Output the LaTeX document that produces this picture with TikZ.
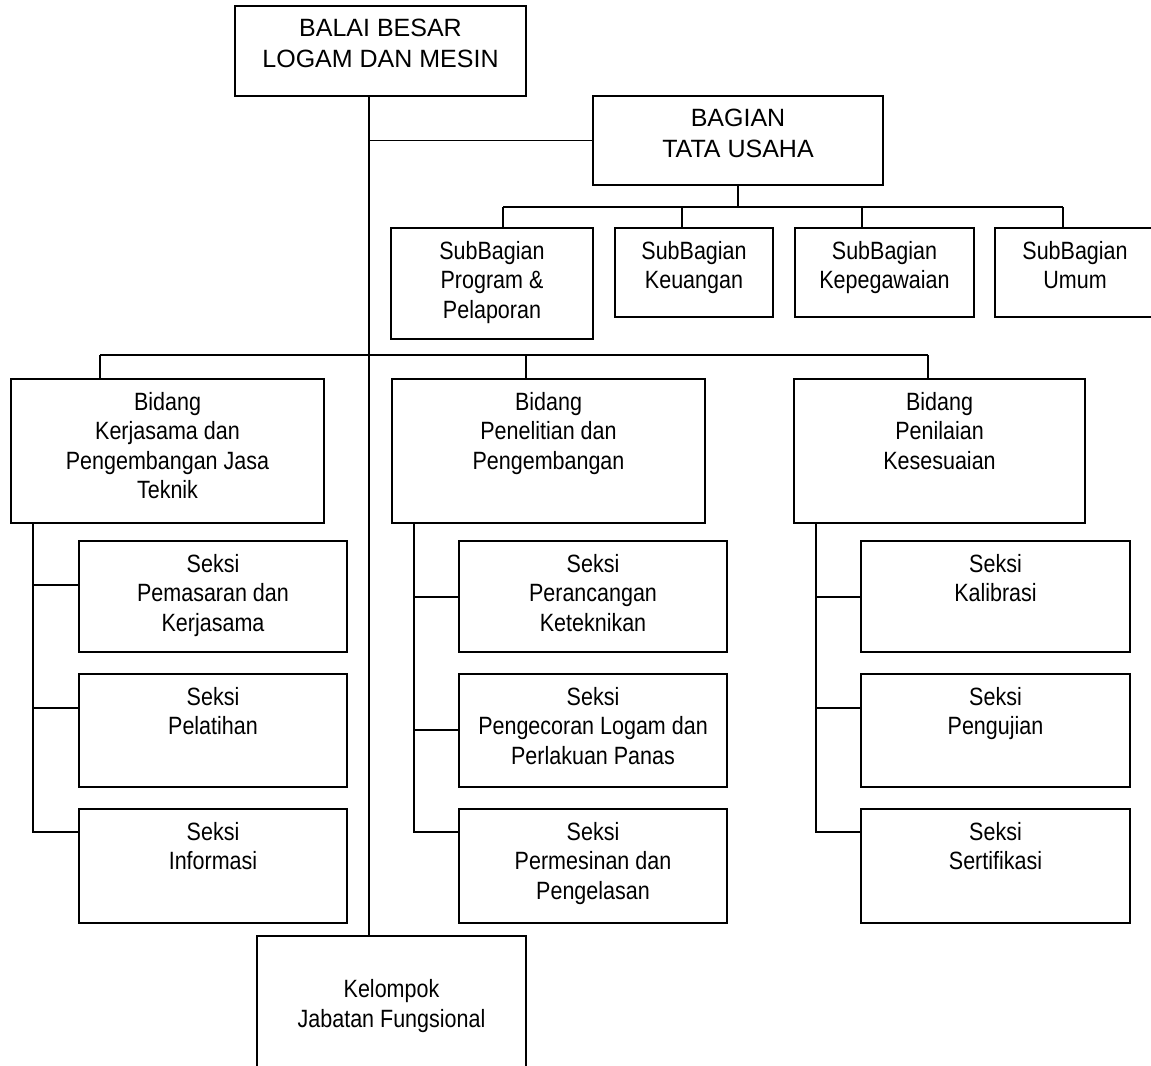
\documentclass[tikz,border=0pt]{standalone}
\usepackage{fontspec}
\setmainfont{Liberation Sans}[FakeStretch=0.86]
\newfontfamily\hurufbesar{Liberation Sans}

\tikzset{
    garis/.style={line width=1.4pt},
    kotak/.style 2 args={draw, line width=1.4pt, minimum width=#1*0.75pt, minimum height=#2*0.75pt, inner sep=0pt},
    tulisan/.style={align=center, inner sep=0pt, anchor=north, font=\fontsize{18.75}{22.1}\selectfont},
    besar/.style={tulisan, font=\hurufbesar\fontsize{18.75}{22.8}\selectfont}
}

\begin{document}
\begin{tikzpicture}[x=0.75pt, y=-0.75pt]
                \useasboundingbox (0,0) rectangle (1151,1065);

                % kepala dan tata usaha
                \node[kotak={291}{90}] (balai) at (380.5,51) {};
                \node[besar] (balai-t) at ([yshift=-10.5pt]balai.north) {BALAI BESAR\\LOGAM DAN MESIN};
                \node[kotak={290}{89}] (tu) at (738,140.5) {};
                \node[besar] (tu-t) at ([yshift=-10.5pt]tu.north) {BAGIAN\\TATA USAHA};

                \node[kotak={202}{111}] (sb1) at (492,283.5) {};
                \node[tulisan] (sb1-t) at ([yshift=-10.5pt]sb1.north) {SubBagian\\Program \&\\Pelaporan};
                \node[kotak={158}{89}] (sb2) at (694,272.5) {};
                \node[tulisan] (sb2-t) at ([yshift=-10.5pt]sb2.north) {SubBagian\\Keuangan};
                \node[kotak={179}{89}] (sb3) at (884.5,272.5) {};
                \node[tulisan] (sb3-t) at ([yshift=-10.5pt]sb3.north) {SubBagian\\Kepegawaian};
                \node[kotak={160}{89}] (sb4) at (1075,272.5) {};
                \node[tulisan] (sb4-t) at ([yshift=-10.5pt]sb4.north) {SubBagian\\Umum};

                % bidang
                \node[kotak={313}{144}] (bd1) at (167.5,451) {};
                \node[tulisan] (bd1-t) at ([yshift=-10.5pt]bd1.north) {Bidang\\Kerjasama dan\\Pengembangan Jasa\\Teknik};
                \node[kotak={313}{144}] (bd2) at (548.5,451) {};
                \node[tulisan] (bd2-t) at ([yshift=-10.5pt]bd2.north) {Bidang\\Penelitian dan\\Pengembangan};
                \node[kotak={291}{144}] (bd3) at (939.5,451) {};
                \node[tulisan] (bd3-t) at ([yshift=-10.5pt]bd3.north) {Bidang\\Penilaian\\Kesesuaian};

                % seksi
                \node[kotak={268}{111}] (s11) at (213,596.5) {};
                \node[tulisan] (s11-t) at ([yshift=-10.5pt]s11.north) {Seksi\\Pemasaran dan\\Kerjasama};
                \node[kotak={268}{113}] (s12) at (213,730.5) {};
                \node[tulisan] (s12-t) at ([yshift=-10.5pt]s12.north) {Seksi\\Pelatihan};
                \node[kotak={268}{114}] (s13) at (213,866) {};
                \node[tulisan] (s13-t) at ([yshift=-10.5pt]s13.north) {Seksi\\Informasi};

                \node[kotak={268}{111}] (s21) at (593,596.5) {};
                \node[tulisan] (s21-t) at ([yshift=-10.5pt]s21.north) {Seksi\\Perancangan\\Keteknikan};
                \node[kotak={268}{113}] (s22) at (593,730.5) {};
                \node[tulisan] (s22-t) at ([yshift=-10.5pt]s22.north) {Seksi\\Pengecoran Logam dan\\Perlakuan Panas};
                \node[kotak={268}{114}] (s23) at (593,866) {};
                \node[tulisan] (s23-t) at ([yshift=-10.5pt]s23.north) {Seksi\\Permesinan dan\\Pengelasan};

                \node[kotak={269}{111}] (s31) at (995.5,596.5) {};
                \node[tulisan] (s31-t) at ([yshift=-10.5pt]s31.north) {Seksi\\Kalibrasi};
                \node[kotak={269}{113}] (s32) at (995.5,730.5) {};
                \node[tulisan] (s32-t) at ([yshift=-10.5pt]s32.north) {Seksi\\Pengujian};
                \node[kotak={269}{114}] (s33) at (995.5,866) {};
                \node[tulisan] (s33-t) at ([yshift=-10.5pt]s33.north) {Seksi\\Sertifikasi};

                \node[kotak={269}{140}, tulisan, anchor=center] (kel) at (391.5,1006) {Kelompok\\Jabatan Fungsional};

                % garis penghubung
                \coordinate (batang) at (369,96);
                \draw[garis] (batang) -- (batang |- kel.north);
                \draw[garis] (batang |- tu.west) -- (tu.west);

                \coordinate (rel1) at (503,207);
                \coordinate (rel2) at (682,207);
                \coordinate (rel3) at (862,207);
                \coordinate (rel4) at (1063,207);
                \draw[garis] (tu.south) -- (tu.south |- rel1);
                \draw[garis] (rel1) -- (rel4);
                \foreach \i in {1,...,4} {
                        \draw[garis] (rel\i) -- (rel\i |- sb\i.north);
                    }

                \coordinate (jl1) at (100,355);
                \coordinate (jl2) at (526,355);
                \coordinate (jl3) at (928,355);
                \draw[garis] (jl1) -- (jl3);
                \foreach \i in {1,2,3} {
                        \draw[garis] (jl\i) -- (jl\i |- bd\i.north);
                    }

                \coordinate (v1) at (33,523);
                \coordinate (v2) at (414,523);
                \coordinate (v3) at (816,523);
                \coordinate (c11) at (79,585);
                \coordinate (c12) at (79,708);
                \coordinate (c13) at (79,832);
                \coordinate (c21) at (459,597);
                \coordinate (c22) at (459,730);
                \coordinate (c23) at (459,832);
                \coordinate (c31) at (861,597);
                \coordinate (c32) at (861,708);
                \coordinate (c33) at (861,832);
                \foreach \i in {1,2,3} {
                        \draw[garis] (v\i) |- (c\i3);
                        \foreach \j in {1,2} {
                                \draw[garis] (v\i |- c\i\j) -- (c\i\j);
                            }
                    }
            \end{tikzpicture}
\end{document}
